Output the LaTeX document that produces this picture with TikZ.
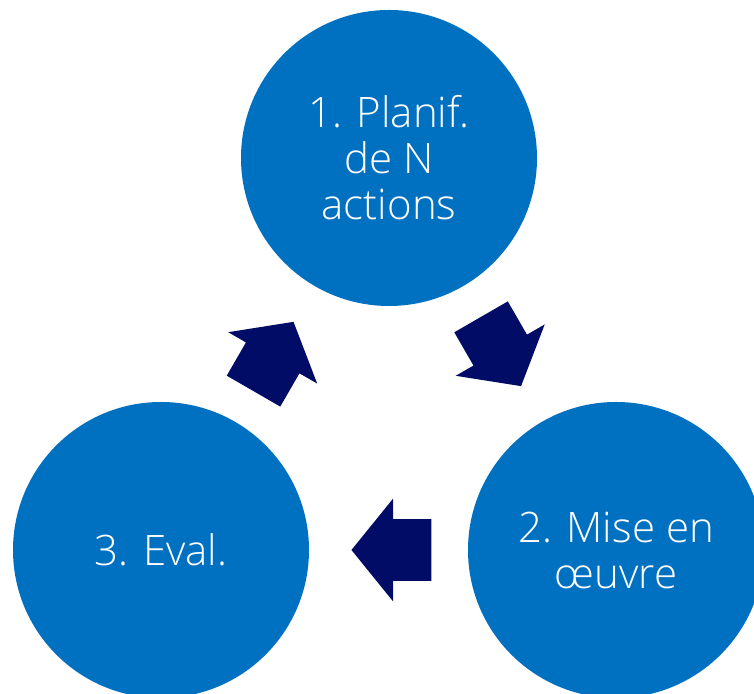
\documentclass[tikz,border=0pt]{standalone}
\usepackage{fontspec}
\setmainfont{Open Sans}[UprightFont={* Light}]
\usepackage{tikz}
\usetikzlibrary{shapes.arrows,calc}

\definecolor{stageblue}{HTML}{0070C0}
\definecolor{flownavy}{HTML}{000C66}

\tikzset{
  stage/.style={circle, fill=stageblue, text=white, minimum size=148pt,
    inner sep=0pt, align=center, font=\fontsize{21}{23}\selectfont},
  flow/.style={single arrow, fill=flownavy, inner xsep=0pt, inner ysep=15.25pt,
    minimum height=40pt, minimum width=51pt,
    single arrow head extend=10.25pt, single arrow tip angle=102}
}

\begin{document}
\begin{tikzpicture}[x=0.5pt, y=0.5pt]
    \path[use as bounding box, clip] (0,0) rectangle (754,694);
    \node[stage] (plan) at (389,536) {1. Planif.\\de N\\actions};
    \node[stage] (mise) at (616,144) {2. Mise en\\œuvre};
    \node[stage] (eval) at (161,144) {3. Eval.};
    % block arrows between the stages (node centre sits towards the tip)
    \node[flow, rotate=-60] (planmise) at ($(plan)!0.466!(mise)$) {};
    \node[flow, rotate=180] (miseeval) at ($(mise)!0.466!(eval)$) {};
    \node[flow, rotate=60] (evalplan) at ($(eval)!0.466!(plan)$) {};
  \end{tikzpicture}
\end{document}
